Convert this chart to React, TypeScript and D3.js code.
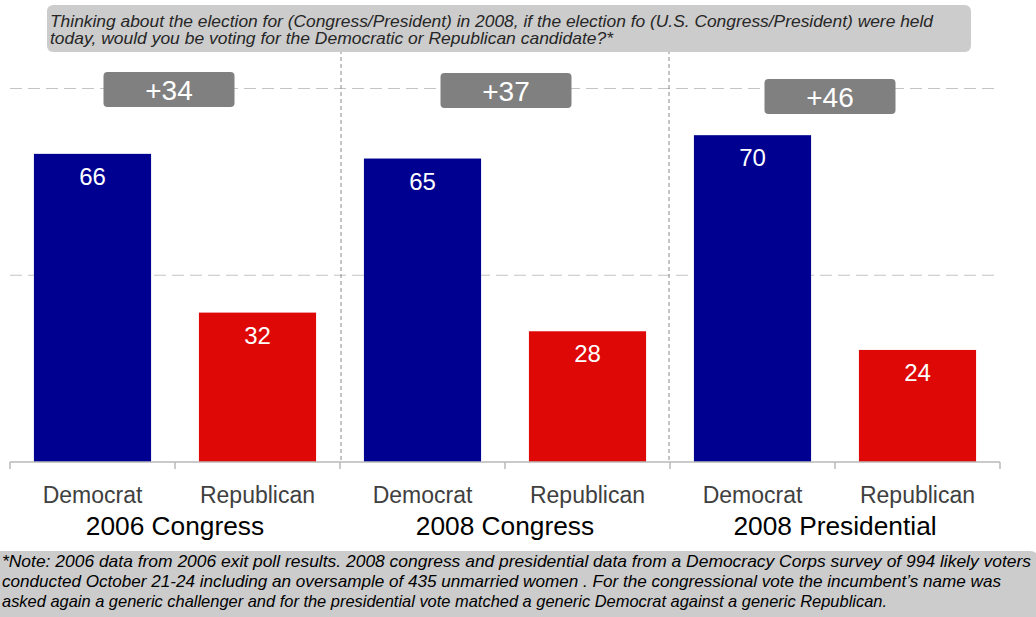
import React from "react";
import * as d3 from "d3";

const categories = ["Democrat", "Republican", "Democrat", "Republican", "Democrat", "Republican"];
const parties = ["D", "R", "D", "R", "D", "R"];
const values = [66, 32, 65, 28, 70, 24];
const groups = ["2006 Congress", "2008 Congress", "2008 Presidential"];
const margins = ["+34", "+37", "+46"];
const gridValues = [40, 80];
const headerLines = [
  "Thinking about the election for (Congress/President) in 2008, if the election fo (U.S. Congress/President) were held",
  "today, would you be voting for the Democratic or Republican candidate?*",
];
const footerLines = [
  "*Note: 2006 data from 2006 exit poll results.  2008 congress and presidential data from a Democracy Corps survey of 994 likely voters",
  "conducted October 21-24 including an oversample of 435 unmarried women . For the congressional vote the incumbent\u2019s name was",
  "asked again a generic challenger and for the presidential vote matched a generic Democrat against a generic Republican.",
];

// layout (not data)
const headerWidths = [883, 563];
const footerWidths = [1029, 999, 885];
const boxDx = [-6, 1, -5];
const boxTop = [72, 73, 79];
const W = 1036;
const H = 617;
const FONT = "'Liberation Sans', Arial, Helvetica, sans-serif";
const COLORS: Record<string, string> = { D: "#000090", R: "#de0806" };

export default function App() {
  const x = d3
    .scaleBand<number>()
    .domain(d3.range(categories.length))
    .range([10, 1000])
    .paddingInner(0.29)
    .paddingOuter(0.145);
  const y = d3.scaleLinear().domain([0, 80]).range([462, 88.5]);
  const step = x.step();
  const x0 = 10;
  const tickXs = d3.range(categories.length + 1).map((i) => x0 + i * step);
  const sepXs = [tickXs[2] + 1, tickXs[4] - 1];
  const groupCenter = (g: number) => x0 + (2 * g + 1) * step;

  return (
    <svg
      width={W}
      height={H}
      style={{ position: "absolute", left: 0, top: 0, display: "block", background: "#fff" }}
      fontFamily={FONT}
    >
      {gridValues.map((v) => (
        <line
          key={v}
          x1={10}
          x2={1000}
          y1={y(v)}
          y2={y(v)}
          stroke="#c4c4c4"
          strokeWidth={1}
          strokeDasharray="12,6"
        />
      ))}
      {sepXs.map((sx, i) => (
        <line
          key={i}
          x1={sx}
          x2={sx}
          y1={50}
          y2={y(0)}
          stroke="#8a8a8a"
          strokeWidth={1}
          strokeDasharray="4,3"
        />
      ))}
      <rect x={47} y={5} width={924} height={47} rx={6} fill="#cccccc" />
      {headerLines.map((t, i) => (
        <text
          key={i}
          x={50}
          y={27 + i * 17}
          fontSize={16.5}
          fontStyle="italic"
          fill="#262626"
          textLength={headerWidths[i]}
          lengthAdjust="spacingAndGlyphs"
        >
          {t}
        </text>
      ))}
      {values.map((v, i) => (
        <g key={i}>
          <rect
            x={x(i)!}
            y={y(v)}
            width={x.bandwidth()}
            height={y(0) - y(v)}
            fill={COLORS[parties[i]]}
          />
          <text
            x={x(i)! + x.bandwidth() / 2}
            y={y(v) + 31}
            textAnchor="middle"
            fontSize={24}
            fill="#ffffff"
          >
            {v}
          </text>
        </g>
      ))}
      <line x1={10} x2={1000} y1={y(0)} y2={y(0)} stroke="#b8b8b8" strokeWidth={1.5} />
      {tickXs.map((tx, i) => (
        <line key={i} x1={tx} x2={tx} y1={y(0)} y2={y(0) + 7} stroke="#b8b8b8" strokeWidth={1.5} />
      ))}
      {categories.map((c, i) => (
        <text
          key={i}
          x={x(i)! + x.bandwidth() / 2}
          y={503}
          textAnchor="middle"
          fontSize={23}
          fill="#404040"
        >
          {c}
        </text>
      ))}
      {groups.map((g, i) => (
        <text key={i} x={groupCenter(i)} y={535} textAnchor="middle" fontSize={26.3} fill="#000">
          {g}
        </text>
      ))}
      {margins.map((m, i) => {
        const cx = groupCenter(i) + boxDx[i];
        return (
          <g key={i}>
            <rect x={cx - 65.5} y={boxTop[i]} width={131} height={35} rx={4} fill="#808080" />
            <text x={cx} y={boxTop[i] + 28} textAnchor="middle" fontSize={28} fill="#ffffff">
              {m}
            </text>
          </g>
        );
      })}
      <rect x={-10} y={551} width={1050} height={80} rx={10} fill="#cccccc" />
      {footerLines.map((t, i) => (
        <text
          key={i}
          x={2}
          y={567 + i * 20}
          fontSize={16.5}
          fontStyle="italic"
          fill="#000"
          textLength={footerWidths[i]}
          lengthAdjust="spacingAndGlyphs"
        >
          {t}
        </text>
      ))}
    </svg>
  );
}
